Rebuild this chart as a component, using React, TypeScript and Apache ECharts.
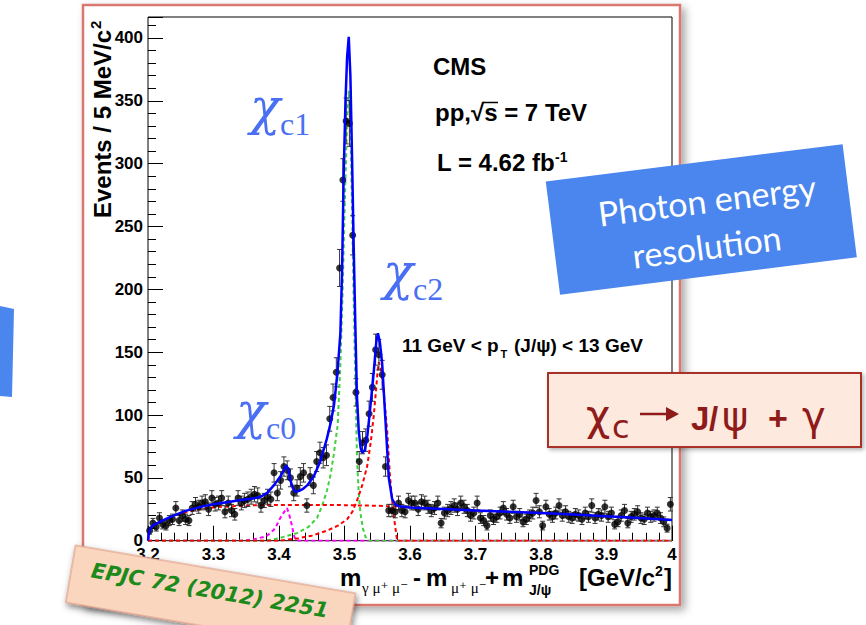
import React, { useEffect, useRef } from "react";
import * as echarts from "echarts";

// ---------------- data ----------------
const X_MIN = 3.2;
const X_MAX = 4.0;
const Y_MAX = 416.7;
const BIN_WIDTH = 0.005;
const xTickLabels = ["3.2", "3.3", "3.4", "3.5", "3.6", "3.7", "3.8", "3.9", "4"];
const yTickLabels = ["0", "50", "100", "150", "200", "250", "300", "350", "400"];

// events per 5 MeV bin, 3.20 .. 4.00
const eventCounts = [
  8, 14, 11, 18, 13, 12, 16, 17, 26, 16,
  20, 17, 16, 26, 29, 27, 30, 31, 25, 34,
  29, 30, 34, 23, 30, 24, 21, 34, 30, 32,
  33, 35, 37, 36, 28, 32, 35, 33, 54, 38,
  48, 59, 56, 50, 38, 42, 51, 54, 28, 51,
  44, 63, 70, 66, 68, 97, 114, 134, 217, 287,
  334, 332, 243, 118, 63, 78, 80, 101, 122, 152,
  148, 132, 59, 24, 24, 23, 30, 24, 23, 32,
  30, 30, 25, 31, 30, 27, 24, 26, 30, 14,
  22, 24, 26, 28, 25, 30, 27, 24, 20, 22,
  30, 18, 16, 12, 20, 17, 19, 22, 26, 21,
  18, 27, 19, 21, 15, 17, 20, 22, 32, 23,
  12, 27, 21, 19, 22, 28, 20, 23, 19, 18,
  21, 20, 17, 22, 19, 28, 18, 21, 20, 27,
  19, 22, 13, 15, 20, 24, 14, 19, 21, 23,
  18, 17, 22, 19, 20, 22, 18, 15, 10, 29,
];

const fitTotal: [number, number][] = [
  [3.2, 0], [3.2012, 5], [3.203, 9], [3.206, 11.5], [3.21, 13], [3.218, 15], [3.23, 18],
  [3.244, 21], [3.256, 23.5], [3.27, 25.5], [3.285, 27.5], [3.3, 29], [3.325, 31], [3.345, 32.5],
  [3.36, 33.5], [3.372, 35], [3.382, 38], [3.392, 44], [3.402, 51], [3.408, 57], [3.411, 60],
  [3.414, 57], [3.417, 49], [3.421, 42], [3.425, 39], [3.43, 39.5], [3.436, 41], [3.443, 44],
  [3.453, 51], [3.463, 63], [3.473, 81], [3.479, 94], [3.484, 108], [3.489, 132], [3.4937, 165],
  [3.4963, 215], [3.4987, 290], [3.5015, 350], [3.504, 385], [3.5065, 401], [3.509, 370],
  [3.5116, 303], [3.514, 235], [3.5166, 170], [3.519, 115], [3.5217, 88], [3.5245, 74],
  [3.527, 70], [3.531, 72], [3.535, 84], [3.539, 104], [3.5446, 134], [3.5485, 158], [3.551, 165],
  [3.554, 158], [3.5575, 141], [3.5625, 96], [3.5676, 50], [3.5728, 33], [3.578, 28.5],
  [3.5829, 27.5], [3.6, 26.5], [3.65, 25.3], [3.7, 24], [3.75, 23], [3.8, 22], [3.85, 20.8],
  [3.9, 19.5], [3.95, 18], [4.0, 16.5],
];

const fitBackground: [number, number][] = [
  [3.2, 0], [3.2012, 4], [3.203, 8], [3.206, 10.5], [3.21, 12.5], [3.218, 14.5], [3.23, 17.5],
  [3.244, 20.5], [3.26, 23], [3.28, 25], [3.3, 26.5], [3.33, 27.5], [3.36, 28.2], [3.4, 28.5],
  [3.45, 28.5], [3.5, 28.3], [3.55, 27.8], [3.6, 26.5], [3.65, 25.3], [3.7, 24], [3.75, 23],
  [3.8, 22], [3.85, 20.8], [3.9, 19.5], [3.95, 18], [4.0, 16.5],
];

const fitChic0: [number, number][] = [
  [3.2, 0], [3.345, 0], [3.361, 1], [3.3764, 3], [3.3816, 4], [3.3917, 8.5], [3.3943, 10],
  [3.4019, 18], [3.408, 23], [3.4122, 26], [3.4155, 21], [3.4198, 12], [3.4225, 5], [3.4248, 1],
  [3.43, 0], [4.0, 0],
];

const fitChic1: [number, number][] = [
  [3.2, 0], [3.38, 0], [3.4, 2], [3.4275, 6], [3.445, 11], [3.458, 18], [3.466, 28], [3.4733, 40],
  [3.479, 53], [3.4834, 68], [3.4896, 92], [3.4937, 140], [3.497, 195], [3.5, 260], [3.504, 335],
  [3.5065, 358], [3.509, 330], [3.5116, 262], [3.514, 192], [3.5166, 125], [3.5192, 64],
  [3.5217, 38], [3.5243, 22], [3.528, 10], [3.532, 3], [3.537, 0], [4.0, 0],
];

const fitChic2: [number, number][] = [
  [3.2, 0], [3.4, 0], [3.43, 2], [3.45, 4], [3.4733, 8], [3.49, 12], [3.5039, 17], [3.512, 23],
  [3.5192, 32], [3.527, 44], [3.5345, 59], [3.54, 78], [3.5446, 99], [3.5485, 122], [3.5507, 136],
  [3.5524, 142], [3.5545, 139], [3.5575, 130], [3.5599, 118], [3.5651, 88], [3.5691, 54],
  [3.5725, 33], [3.5752, 20], [3.578, 9], [3.5804, 0], [4.0, 0],
];

// ---------------- helpers ----------------
const SANS = '"Liberation Sans", Arial, Helvetica, sans-serif';
const SERIF = '"Liberation Serif", "DejaVu Serif", serif';
const GREEK_SERIF = '"DejaVu Serif", serif';
const DEJAVU = '"DejaVu Sans", sans-serif';

type TOpt = {
  size: number;
  weight?: string;
  family?: string;
  color?: string;
  fontStyle?: string;
  align?: string;
  k?: number;
  z?: number;
};

// text positioned by its alphabetic baseline
function txt(x: number, baseline: number, text: string, o: TOpt) {
  const k = o.k ?? 0.3465;
  return {
    type: "text",
    x,
    y: baseline - k * o.size,
    z: o.z ?? 20,
    silent: true,
    style: {
      text,
      fill: o.color ?? "#000",
      fontSize: o.size,
      fontWeight: o.weight ?? "normal",
      fontFamily: o.family ?? SANS,
      fontStyle: o.fontStyle ?? "normal",
      align: o.align ?? "left",
      verticalAlign: "middle",
    },
  };
}

const BLUE_LABEL = "#4a6ff2";
const DARK_RED = "#8e1a1a";

function buildOption() {
  const points = eventCounts.map((n, i) => [X_MIN + BIN_WIDTH * (i + 0.5), n, Math.sqrt(n)]);

  const chiLabel = (x: number, base: number, sub: string) => [
    txt(x, base, "χ", { size: 50, family: GREEK_SERIF, fontStyle: "italic", color: BLUE_LABEL, k: 0.35 }),
    txt(x + 30, base + 11, sub, { size: 32, family: SERIF, color: BLUE_LABEL, k: 0.3375 }),
  ];

  const graphic: any[] = [
    // slide frame around the plot
    {
      type: "rect",
      z: -5,
      silent: true,
      shape: { x: 83, y: 5, width: 597, height: 600 },
      style: {
        fill: "#ffffff",
        stroke: "#d9776f",
        lineWidth: 2.5,
        shadowBlur: 8,
        shadowColor: "rgba(0,0,0,0.35)",
        shadowOffsetX: 4,
        shadowOffsetY: 4,
      },
    },
    // partly visible blue box on the left
    {
      type: "polygon",
      z: 50,
      silent: true,
      shape: { points: [[0, 306], [14, 309], [12, 397], [0, 396]] },
      style: { fill: "#4a86ee" },
    },
    // y axis title
    {
      type: "group",
      x: 111,
      y: 218,
      rotation: Math.PI / 2,
      z: 20,
      children: [
        txt(0, 0, "Events / 5 MeV/c", { size: 24, weight: "bold" }),
        txt(189, -10, "2", { size: 15, weight: "bold" }),
      ],
    },
    // x axis title
    txt(340, 586, "m", { size: 24, weight: "bold" }),
    txt(362, 593, "γ μ⁺ μ⁻", { size: 15, family: SERIF, k: 0.3375 }),
    txt(413, 586, "-", { size: 24, weight: "bold" }),
    txt(426, 586, "m", { size: 24, weight: "bold" }),
    txt(451, 593, "μ⁺ μ⁻", { size: 15, family: SERIF, k: 0.3375 }),
    txt(485, 586, "+", { size: 24, weight: "bold" }),
    txt(502, 586, "m", { size: 24, weight: "bold" }),
    txt(529, 575, "PDG", { size: 14, weight: "bold" }),
    txt(529, 595, "J/ψ", { size: 14, weight: "bold" }),
    txt(579, 586, "[GeV/c", { size: 24, weight: "bold" }),
    txt(655, 576, "2", { size: 14, weight: "bold" }),
    txt(664, 586, "]", { size: 24, weight: "bold" }),

    // CMS labels
    txt(433, 75, "CMS", { size: 24, weight: "bold" }),
    txt(435, 120.5, "pp,√s = 7 TeV", { size: 24, weight: "bold" }),
    {
      type: "line",
      z: 20,
      silent: true,
      shape: { x1: 483, y1: 102.5, x2: 498, y2: 102.5 },
      style: { stroke: "#000", lineWidth: 1.5 },
    },
    txt(437, 170.5, "L = 4.62 fb", { size: 24, weight: "bold" }),
    txt(555, 162, "-1", { size: 14, weight: "bold" }),
    txt(402, 352, "11 GeV < p", { size: 19, weight: "bold" }),
    txt(500.5, 358, "T", { size: 11, weight: "bold" }),
    txt(514, 352, "(J/ψ) < 13 GeV", { size: 19, weight: "bold" }),

    // chi labels
    ...chiLabel(250, 124, "c1"),
    ...chiLabel(383, 289, "c2"),
    ...chiLabel(236, 428, "c0"),

    // Photon energy resolution box
    {
      type: "group",
      x: 701.3,
      y: 219.4,
      rotation: 0.1253,
      z: 50,
      children: [
        {
          type: "rect",
          z: 50,
          silent: true,
          shape: { x: -149.6, y: -57, width: 299.2, height: 114 },
          style: { fill: "#4a86ee" },
        },
        {
          type: "text",
          z: 51,
          x: 8,
          y: -19,
          silent: true,
          style: {
            text: "Photon energy",
            fill: "#ffffff",
            fontSize: 34,
            fontFamily: "Lato, sans-serif",
            align: "center",
            verticalAlign: "middle",
          },
        },
        {
          type: "text",
          z: 51,
          x: 2,
          y: 27,
          silent: true,
          style: {
            text: "resolution",
            fill: "#ffffff",
            fontSize: 34,
            fontFamily: "Lato, sans-serif",
            align: "center",
            verticalAlign: "middle",
          },
        },
      ],
    },

    // chi_c -> J/psi + gamma box
    {
      type: "rect",
      z: 50,
      silent: true,
      shape: { x: 548, y: 373, width: 313, height: 74 },
      style: {
        fill: "#fde9dd",
        stroke: "#a8322b",
        lineWidth: 2,
        shadowBlur: 4,
        shadowColor: "rgba(0,0,0,0.3)",
        shadowOffsetX: 2,
        shadowOffsetY: 2,
      },
    },
    txt(586, 430, "χ", { size: 42, family: DEJAVU, color: DARK_RED, k: 0.346, z: 52 }),
    txt(612, 438, "c", { size: 32, family: DEJAVU, color: DARK_RED, k: 0.346, z: 52 }),
    {
      type: "line",
      z: 52,
      silent: true,
      shape: { x1: 640, y1: 414, x2: 670, y2: 414 },
      style: { stroke: DARK_RED, lineWidth: 2.5 },
    },
    {
      type: "polygon",
      z: 52,
      silent: true,
      shape: { points: [[666, 407], [679, 414], [666, 421]] },
      style: { fill: DARK_RED },
    },
    txt(691, 430, "J", { size: 33, weight: "bold", color: DARK_RED, z: 52 }),
    txt(709, 430, "/", { size: 33, weight: "bold", color: DARK_RED, z: 52 }),
    txt(722, 430, "ψ", { size: 40, family: DEJAVU, color: DARK_RED, k: 0.346, z: 52 }),
    txt(768, 430, "+", { size: 34, weight: "bold", color: DARK_RED, z: 52 }),
    txt(802, 430, "γ", { size: 40, family: DEJAVU, color: DARK_RED, k: 0.346, z: 52 }),

    // EPJC label
    {
      type: "group",
      x: 212,
      y: 590,
      rotation: -0.17,
      z: 60,
      children: [
        {
          type: "rect",
          z: 60,
          silent: true,
          shape: { x: -142, y: -21, width: 284, height: 58 },
          style: {
            fill: "#fbd6bf",
            stroke: "#d9937d",
            lineWidth: 1,
            shadowBlur: 6,
            shadowColor: "rgba(0,0,0,0.5)",
            shadowOffsetX: 2,
            shadowOffsetY: 3,
          },
        },
        {
          type: "text",
          z: 61,
          x: -2,
          y: 1,
          silent: true,
          style: {
            text: "EPJC 72 (2012) 2251",
            fill: "#1b8a1b",
            fontSize: 21,
            fontWeight: "bold",
            fontStyle: "italic",
            fontFamily: DEJAVU,
            align: "center",
            verticalAlign: "middle",
          },
        },
      ],
    },
  ];

  const dashed = (data: [number, number][], color: string, z: number) => ({
    type: "line",
    data,
    xAxisIndex: 0,
    yAxisIndex: 0,
    showSymbol: false,
    symbol: "none",
    silent: true,
    z,
    lineStyle: { color, width: 2, type: [4, 3] },
  });

  return {
    animation: false,
    backgroundColor: "transparent",
    textStyle: { fontFamily: SANS },
    grid: {
      left: 148,
      top: 17,
      width: 524,
      height: 523.7,
      show: true,
      borderColor: "#000",
      borderWidth: 1,
      backgroundColor: "transparent",
      containLabel: false,
      outerBoundsMode: "none",
      z: 1,
    },
    xAxis: [
      {
        type: "value",
        min: X_MIN,
        max: X_MAX,
        interval: 0.1,
        axisLine: { show: false },
        axisTick: { show: true, inside: true, length: 15, lineStyle: { color: "#000", width: 1 } },
        axisLabel: {
          show: true,
          margin: 5,
          color: "#000",
          fontSize: 17,
          fontWeight: "bold",
          fontFamily: SANS,
          formatter: (v: number) => xTickLabels[Math.round((v - X_MIN) / 0.1)] ?? "",
        },
        splitLine: { show: false },
      },
      {
        type: "value",
        position: "bottom",
        min: X_MIN,
        max: X_MAX,
        interval: 0.02,
        axisLine: { show: false },
        axisTick: { show: true, inside: true, length: 8, lineStyle: { color: "#000", width: 1 } },
        axisLabel: { show: false },
        splitLine: { show: false },
      },
    ],
    yAxis: [
      {
        type: "value",
        min: 0,
        max: Y_MAX,
        interval: 50,
        axisLine: { show: false },
        axisTick: { show: true, inside: true, length: 15, lineStyle: { color: "#000", width: 1 } },
        axisLabel: {
          show: true,
          margin: 5,
          color: "#000",
          fontSize: 17,
          fontWeight: "bold",
          fontFamily: SANS,
          formatter: (v: number) => {
            const idx = Math.round(v / 50);
            return Math.abs(v - idx * 50) < 1e-6 ? yTickLabels[idx] ?? "" : "";
          },
        },
        splitLine: { show: false },
      },
      {
        type: "value",
        position: "left",
        min: 0,
        max: Y_MAX,
        interval: 10,
        axisLine: { show: false },
        axisTick: { show: true, inside: true, length: 8, lineStyle: { color: "#000", width: 1 } },
        axisLabel: { show: false },
        splitLine: { show: false },
      },
    ],
    graphic,
    series: [
      dashed(fitChic0, "#ff00ff", 2),
      dashed(fitChic1, "#3fcf3f", 2),
      dashed(fitBackground, "#ff0000", 2),
      dashed(fitChic2, "#ff0000", 2),
      {
        type: "custom",
        xAxisIndex: 0,
        yAxisIndex: 0,
        silent: true,
        z: 3,
        data: points,
        encode: { x: 0, y: 1 },
        renderItem: (params: any, api: any) => {
          const x = api.value(0);
          const y = api.value(1);
          const e = api.value(2);
          const top = api.coord([x, y + e]);
          const bot = api.coord([x, Math.max(0, y - e)]);
          const cap = 2.5;
          const st = { stroke: "#333", lineWidth: 1 };
          return {
            type: "group",
            children: [
              { type: "line", shape: { x1: top[0], y1: top[1], x2: bot[0], y2: bot[1] }, style: st },
              { type: "line", shape: { x1: top[0] - cap, y1: top[1], x2: top[0] + cap, y2: top[1] }, style: st },
              { type: "line", shape: { x1: bot[0] - cap, y1: bot[1], x2: bot[0] + cap, y2: bot[1] }, style: st },
            ],
          };
        },
      },
      {
        type: "scatter",
        xAxisIndex: 0,
        yAxisIndex: 0,
        silent: true,
        z: 4,
        symbol: "circle",
        symbolSize: 7,
        itemStyle: { color: "#000" },
        data: points.map((p) => [p[0], p[1]]),
      },
      {
        type: "line",
        data: fitTotal,
        xAxisIndex: 0,
        yAxisIndex: 0,
        showSymbol: false,
        symbol: "none",
        silent: true,
        z: 5,
        lineStyle: { color: "#0000ff", width: 2.5 },
      },
    ],
  };
}

export default function App() {
  const ref = useRef<HTMLDivElement>(null);
  useEffect(() => {
    if (!ref.current) return;
    const chart = echarts.init(ref.current, null, { renderer: "svg" });
    chart.setOption(buildOption() as any);
    return () => chart.dispose();
  }, []);
  return (
    <div
      ref={ref}
      style={{ position: "fixed", left: 0, top: 0, width: 866, height: 625, background: "#ffffff" }}
    />
  );
}
